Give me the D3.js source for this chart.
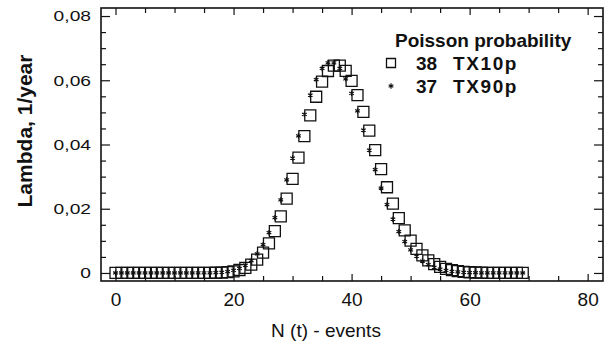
<!DOCTYPE html>
<html>
<head>
<meta charset="utf-8">
<script src="https://cdn.jsdelivr.net/npm/d3@7/dist/d3.min.js"></script>
<style>
  html, body { margin: 0; padding: 0; background: #fff; }
  svg { display: block; font-family: "Liberation Sans", Arial, sans-serif; }
</style>
</head>
<body>
<svg id="chart" width="607" height="344"></svg>
<script>
// Number of events n = 0..69
const events = d3.range(0, 70);

// Poisson probability, mean 38 (TX10p)
const probTX10p = [
  0, 0, 0, 0, 0, 0, 0, 0, 0, 0,
  0, 0, 0, 0.000001, 0.000004, 0.0000119, 0.0000284, 0.0000634, 0.0001338, 0.0002677,
  0.0005086, 0.0009203, 0.001590, 0.002626, 0.004158, 0.006321, 0.009238, 0.01300, 0.01765, 0.02312,
  0.02929, 0.03590, 0.04263, 0.04909, 0.05487, 0.05957, 0.06288, 0.06458, 0.06458, 0.06292,
  0.05978, 0.05540, 0.05013, 0.04430, 0.03826, 0.03231, 0.02669, 0.02158, 0.01708, 0.01325,
  0.01007, 0.007503, 0.005483, 0.003931, 0.002766, 0.001911, 0.001297, 0.000865, 0.000567, 0.000365,
  0.000231, 0.000144, 0.0000883, 0.0000533, 0.0000316, 0.0000185, 0.0000106, 0.0000060, 0.0000034, 0.0000019
];

// Poisson probability, mean 37 (TX90p)
const probTX90p = [
  0, 0, 0, 0, 0, 0, 0, 0, 0, 0,
  0, 0, 0, 0.000002, 0.000008, 0.0000218, 0.0000504, 0.000110, 0.000225, 0.000439,
  0.000812, 0.001430, 0.002405, 0.003869, 0.005964, 0.008826, 0.01256, 0.01721, 0.02274, 0.02901,
  0.03578, 0.04270, 0.04937, 0.05535, 0.06023, 0.06367, 0.06544, 0.06544, 0.06372, 0.06045,
  0.05592, 0.05046, 0.04445, 0.03825, 0.03216, 0.02645, 0.02127, 0.01675, 0.01291, 0.009748,
  0.007214, 0.005234, 0.003724, 0.002600, 0.001781, 0.001198, 0.000792, 0.000514, 0.000328, 0.000206,
  0.000127, 0.0000770, 0.0000460, 0.0000270, 0.0000156, 0.0000089, 0.0000050, 0.0000028, 0.0000015, 0.0000008
];

const xTickValues = [0, 20, 40, 60, 80];
const xTickLabels = ["0", "20", "40", "60", "80"];
const yTickValues = [0, 0.02, 0.04, 0.06, 0.08];
const yTickLabels = ["0", "0,02", "0,04", "0,06", "0,08"];

const legendTitle = "Poisson probability";
const legendMeans = ["38", "37"];
const legendNames = ["TX10p", "TX90p"];

const svg = d3.select("#chart");
const frame = { left: 101, right: 603, top: 8, bottom: 281 };

const x = d3.scaleLinear().domain([-2.46, 82.6]).range([frame.left, frame.right]);
const y = d3.scaleLinear().domain([-0.0025, 0.0825]).range([frame.bottom, frame.top]);

const ink = "#111";

// ---- axes: ticks point into the plot on all four sides ----
function styleAxis(g) {
  g.select(".domain").remove();
  g.selectAll(".tick line").attr("stroke", ink).attr("stroke-width", 1.2);
}

const xMinor = d3.range(0, 81, 5).filter(v => v % 20 !== 0);
const yMinor = d3.range(0, 0.0801, 0.005).filter((v, i) => i % 4 !== 0);

// bottom
svg.append("g").attr("transform", `translate(0,${frame.bottom})`)
  .call(d3.axisBottom(x).tickValues(xTickValues).tickSize(-7).tickPadding(12)
    .tickFormat((d, i) => xTickLabels[i]))
  .call(styleAxis)
  .call(g => g.selectAll("text").attr("font-size", 19).attr("fill", ink)
    .attr("font-family", "Liberation Sans, Arial, sans-serif"));
svg.append("g").attr("transform", `translate(0,${frame.bottom})`)
  .call(d3.axisBottom(x).tickValues(xMinor).tickSize(-5).tickFormat(""))
  .call(styleAxis);
// top
svg.append("g").attr("transform", `translate(0,${frame.top})`)
  .call(d3.axisTop(x).tickValues(xTickValues).tickSize(-7).tickFormat(""))
  .call(styleAxis);
svg.append("g").attr("transform", `translate(0,${frame.top})`)
  .call(d3.axisTop(x).tickValues(xMinor).tickSize(-5).tickFormat(""))
  .call(styleAxis);
// left
svg.append("g").attr("transform", `translate(${frame.left},0)`)
  .call(d3.axisLeft(y).tickValues(yTickValues).tickSize(-9).tickPadding(10)
    .tickFormat((d, i) => yTickLabels[i]))
  .call(styleAxis)
  .call(g => g.selectAll("text")
    .attr("font-size", 15.5).attr("fill", ink)
    .attr("font-family", "Liberation Sans, Arial, sans-serif")
    .attr("x", 0)
    .attr("transform", "translate(-10,0) scale(1.24,1)"));
svg.append("g").attr("transform", `translate(${frame.left},0)`)
  .call(d3.axisLeft(y).tickValues(yMinor).tickSize(-5).tickFormat(""))
  .call(styleAxis);
// right
svg.append("g").attr("transform", `translate(${frame.right},0)`)
  .call(d3.axisRight(y).tickValues(yTickValues).tickSize(-9).tickFormat(""))
  .call(styleAxis);
svg.append("g").attr("transform", `translate(${frame.right},0)`)
  .call(d3.axisRight(y).tickValues(yMinor).tickSize(-5).tickFormat(""))
  .call(styleAxis);

// plot frame
svg.append("rect")
  .attr("x", frame.left).attr("y", frame.top)
  .attr("width", frame.right - frame.left).attr("height", frame.bottom - frame.top)
  .attr("fill", "none").attr("stroke", ink).attr("stroke-width", 1.6);

// ---- axis titles ----
svg.append("text")
  .attr("x", 326).attr("y", 337)
  .attr("text-anchor", "middle")
  .attr("font-size", 19).attr("fill", ink)
  .text("N (t) - events");

svg.append("text")
  .attr("transform", "translate(32,131) rotate(-90)")
  .attr("text-anchor", "middle")
  .attr("font-size", 21).attr("font-weight", "bold").attr("fill", ink)
  .text("Lambda, 1/year");

// ---- series ----
const square = d3.symbol(d3.symbolSquare, 121);
const star = d3.symbol(d3.symbolAsterisk, 20);

svg.append("g").selectAll("path")
  .data(events)
  .join("path")
  .attr("d", square)
  .attr("transform", (n, i) => `translate(${x(n)},${y(probTX10p[i])})`)
  .attr("fill", "none").attr("stroke", ink).attr("stroke-width", 1.3);

svg.append("g").selectAll("path")
  .data(events)
  .join("path")
  .attr("d", star)
  .attr("transform", (n, i) => `translate(${x(n)},${y(probTX90p[i])})`)
  .attr("fill", "none").attr("stroke", ink).attr("stroke-width", 1.2);

// ---- legend ----
const legend = svg.append("g");
legend.append("text")
  .attr("x", 395).attr("y", 47)
  .attr("font-size", 19).attr("font-weight", "bold").attr("fill", ink)
  .text(legendTitle);

const rowY = [63, 86];
const legendSymbols = [d3.symbol(d3.symbolSquare, 81), d3.symbol(d3.symbolAsterisk, 20)];
legendMeans.forEach((m, i) => {
  legend.append("path")
    .attr("d", legendSymbols[i])
    .attr("transform", `translate(391,${rowY[i]})`)
    .attr("fill", "none").attr("stroke", ink).attr("stroke-width", i === 0 ? 1.3 : 1.2);
  legend.append("text")
    .attr("x", 416).attr("y", rowY[i] + 7)
    .attr("font-size", 19).attr("font-weight", "bold").attr("fill", ink)
    .text(m);
  legend.append("text")
    .attr("x", 453).attr("y", rowY[i] + 7)
    .attr("font-size", 19).attr("font-weight", "bold").attr("fill", ink)
    .attr("letter-spacing", 1.6)
    .text(legendNames[i]);
});
</script>
</body>
</html>
